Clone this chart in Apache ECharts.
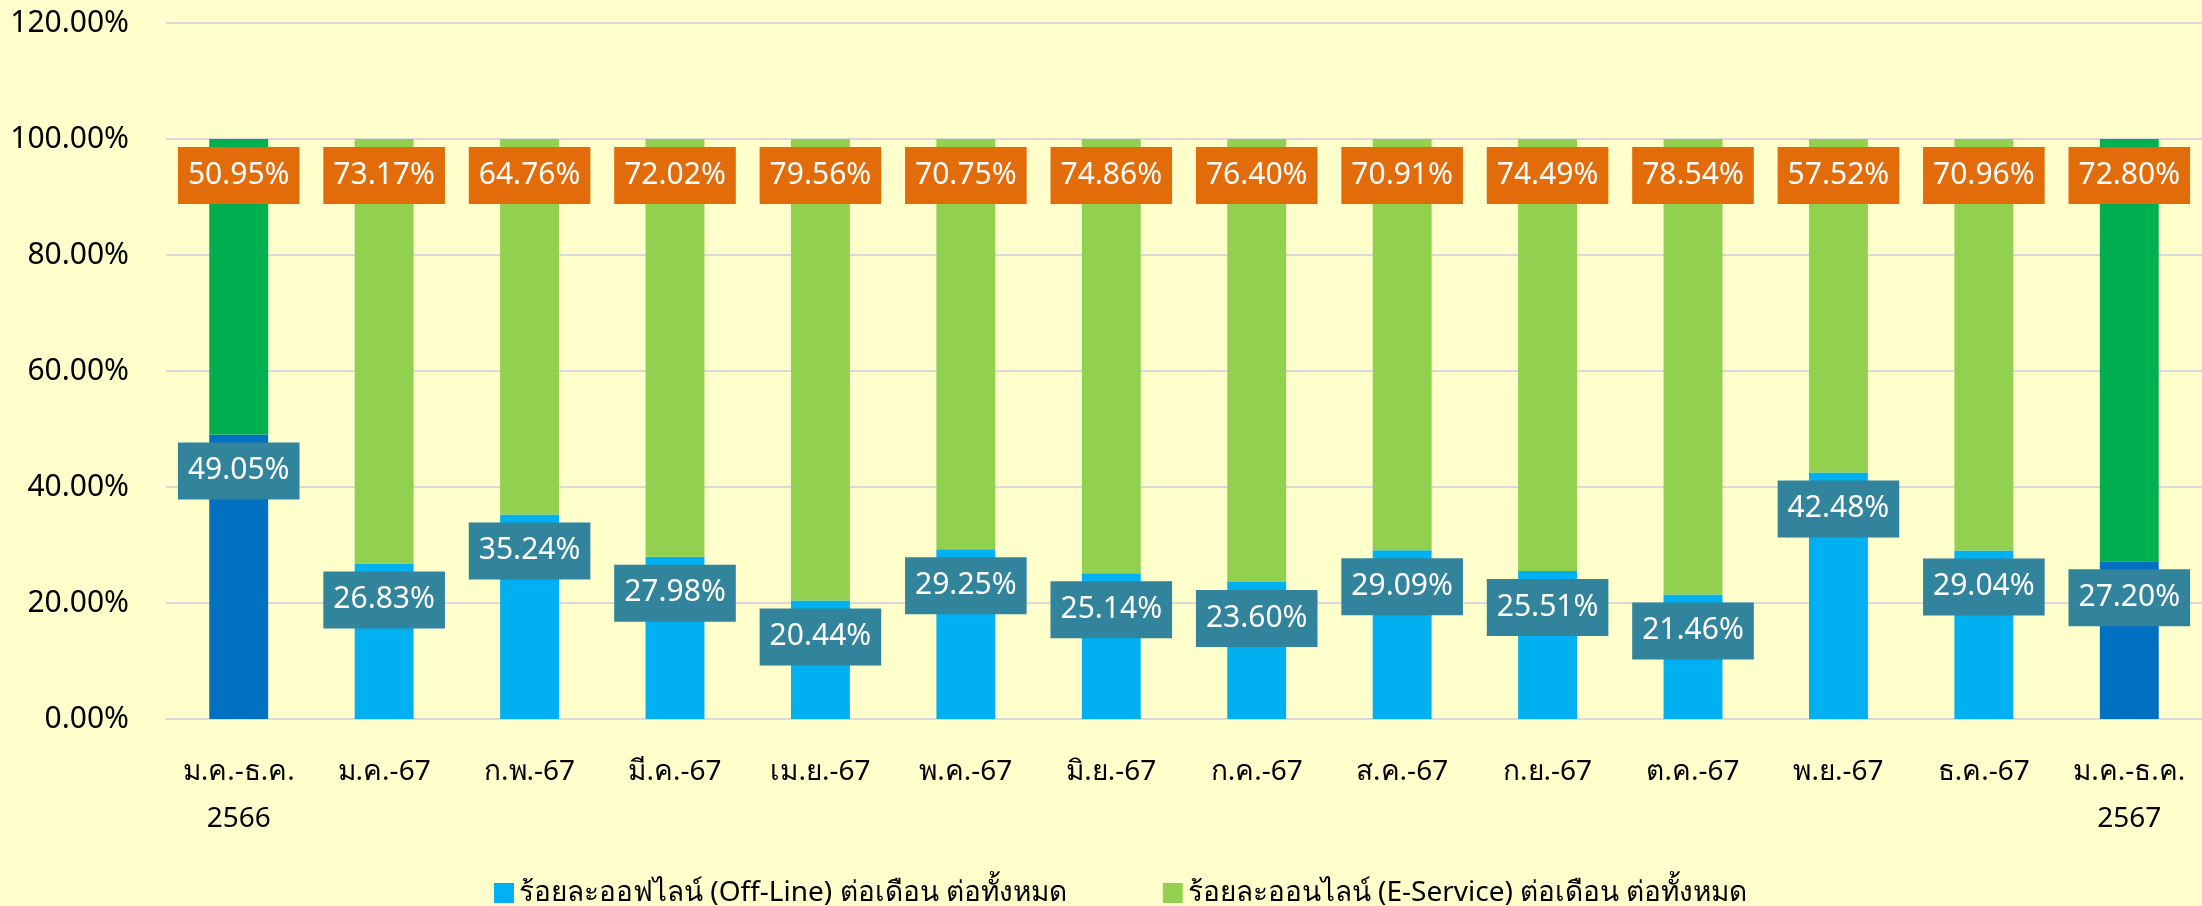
<!DOCTYPE html>
<html>
<head>
<meta charset="utf-8">
<script src="https://cdn.jsdelivr.net/npm/echarts@6/dist/echarts.min.js"></script>
<style>
  html, body { margin: 0; padding: 0; background: #FFFFCC; }
  #myChart { width: 2202px; height: 906px; }
</style>
</head>
<body>
<div id="myChart"></div>
<script>
const categories = ['ม.ค.-ธ.ค.\n2566', 'ม.ค.-67', 'ก.พ.-67', 'มี.ค.-67', 'เม.ย.-67', 'พ.ค.-67', 'มิ.ย.-67',
  'ก.ค.-67', 'ส.ค.-67', 'ก.ย.-67', 'ต.ค.-67', 'พ.ย.-67', 'ธ.ค.-67', 'ม.ค.-ธ.ค.\n2567'];
const offline = [49.05, 26.83, 35.24, 27.98, 20.44, 29.25, 25.14, 23.60, 29.09, 25.51, 21.46, 42.48, 29.04, 27.20];
const online = [50.95, 73.17, 64.76, 72.02, 79.56, 70.75, 74.86, 76.40, 70.91, 74.49, 78.54, 57.52, 70.96, 72.80];
const yTicks = [0, 20, 40, 60, 80, 100, 120];
const seriesNames = ['ร้อยละออฟไลน์ (Off-Line) ต่อเดือน ต่อทั้งหมด', 'ร้อยละออนไลน์ (E-Service) ต่อเดือน ต่อทั้งหมด'];

const FONT = "'Noto Sans', sans-serif";
// yearly totals (first and last bar) use darker shades
const isYear = (i) => i === 0 || i === categories.length - 1;

function items(values, normal, year) {
  return values.map((v, i) => ({ value: v, itemStyle: { color: isYear(i) ? year : normal } }));
}

function boxLabel(bg) {
  return {
    show: true,
    position: 'insideTop',
    distance: 8,
    formatter: (p) => p.value.toFixed(2) + '%',
    color: '#fff',
    fontFamily: FONT,
    fontSize: 30,
    lineHeight: 30,
    backgroundColor: bg,
    padding: [13, 10, 14, 10]
  };
}

let myChart = echarts.init(document.getElementById('myChart'));
myChart.setOption({
  backgroundColor: '#FFFFCC',
  animation: false,
  grid: { left: 166, right: -14, top: 23, bottom: 187 },
  legend: {
    data: [
      { name: seriesNames[0], itemStyle: { color: '#00B0F0' } },
      { name: seriesNames[1], itemStyle: { color: '#92D050' } }
    ],
    left: 489,
    top: 874,
    icon: 'rect',
    itemWidth: 20,
    itemHeight: 20,
    itemGap: 96,
    textStyle: { fontFamily: FONT, fontSize: 28, color: '#000' }
  },
  xAxis: {
    type: 'category',
    data: categories,
    axisTick: { show: false },
    axisLine: { lineStyle: { color: '#D9D9D9', width: 2 } },
    axisLabel: { fontFamily: FONT, fontSize: 28, lineHeight: 47, color: '#000', margin: 30, interval: 0 }
  },
  yAxis: {
    type: 'value',
    min: yTicks[0],
    max: yTicks[yTicks.length - 1],
    interval: 20,
    axisLine: { show: false },
    axisTick: { show: false },
    splitLine: { lineStyle: { color: '#D9D9D9', width: 2 } },
    axisLabel: { fontFamily: FONT, fontSize: 30, color: '#000', margin: 37, formatter: (v) => v.toFixed(2) + '%' }
  },
  series: [
    {
      name: seriesNames[0],
      type: 'bar',
      stack: 'total',
      barWidth: '40.5%',
      data: items(offline, '#00B0F0', '#0070C0'),
      label: boxLabel('#31849B')
    },
    {
      name: seriesNames[1],
      type: 'bar',
      stack: 'total',
      barWidth: '40.5%',
      data: items(online, '#92D050', '#00B050'),
      label: boxLabel('#E36C0A')
    }
  ]
});
</script>
</body>
</html>
